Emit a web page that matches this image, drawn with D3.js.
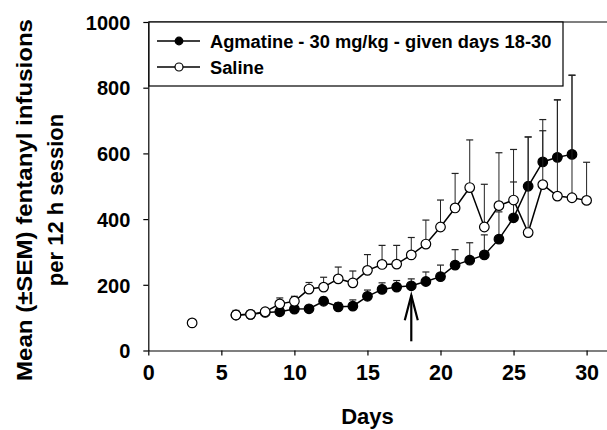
<!DOCTYPE html>
<html><head><meta charset="utf-8">
<script src="https://cdn.jsdelivr.net/npm/d3@7"></script>
<style>body{margin:0;background:#fff}svg{display:block}text{font-family:"Liberation Sans",Arial,sans-serif;font-weight:bold;fill:#000}</style>
</head><body><svg id="c" width="607" height="430"></svg>
<script>
const agmDays  = [6,7,8,9,10,11,12,13,14,15,16,17,18,19,20,21,22,23,24,25,26,27,28,29];
const agmMean  = [108,110,116,118,126,127,150,133,135,165,186,193,197,210,225,260,275,291,339,404,500,574,588,597];
const agmTop   = [108,110,118,124,136,134,162,145,154,184,206,213,218,239,260,307,328,352,422,513,650,703,763,838];
const salDays  = [3,6,7,8,9,10,11,12,13,14,15,16,17,18,19,20,21,22,23,24,25,26,27,28,29,30];
const salMean  = [84,108,110,118,142,150,187,193,218,206,244,262,263,291,324,376,434,496,376,441,458,359,505,470,465,457];
const salTop   = [84,122,112,128,160,165,207,223,254,242,292,320,320,344,397,458,539,641,506,602,612,650,669,763,838,573];
const xTicks = [0,5,10,15,20,25,30];
const yTicks = [0,200,400,600,800,1000];
const legendLabels = ["Agmatine - 30 mg/kg - given days 18-30","Saline"];
const arrowDay = 18, arrowFrom = 28, arrowTo = 168;

const svg = d3.select("#c");
const x = d3.scaleLinear().domain([0,31.5]).range([148.3,148.3+31.5*14.61]);
const y = d3.scaleLinear().domain([0,1000]).range([350.5,22]);

// axes
const xa = svg.append("g").attr("transform",`translate(0,${y(0)})`)
  .call(d3.axisBottom(x).tickValues(xTicks).tickFormat(d3.format("d")).tickSize(5).tickPadding(4).tickSizeOuter(0));
xa.selectAll("text").style("font-size","21.5px").attr("dy","0.95em");
const ya = svg.append("g").attr("transform",`translate(${x(0)},0)`)
  .call(d3.axisLeft(y).tickValues(yTicks).tickFormat(d3.format("d")).tickSize(5).tickPadding(13).tickSizeOuter(0));
ya.selectAll("text").style("font-size","20px").attr("dy","0.36em");
svg.selectAll(".domain, .tick line").attr("stroke","#000").attr("stroke-width",1.2);
// top frame line
svg.append("line").attr("x1",x(0)).attr("x2",607).attr("y1",y(1000)).attr("y2",y(1000)).attr("stroke","#000").attr("stroke-width",1.2);

// axis titles
svg.append("text").attr("x",x(15)).attr("y",424).attr("text-anchor","middle").style("font-size","22px").text("Days");
const yt = svg.append("text").attr("transform","translate(32,200) rotate(-90)").attr("text-anchor","middle").style("font-size","22px");
yt.append("tspan").attr("x",0).attr("y",0).attr("textLength",362).attr("lengthAdjust","spacingAndGlyphs").text("Mean (±SEM) fentanyl infusions");
yt.append("tspan").attr("x",0).attr("y",31).text("per 12 h session");

function series(days, mean, top, fill){
  const g = svg.append("g");
  const line = d3.line().x(d=>x(d[0])).y(d=>y(d[1]));
  const pts = days.map((d,i)=>[d,mean[i]]);
  const segs = [];
  let cur=[pts[0]];
  for(let i=1;i<pts.length;i++){ if(pts[i][0]-pts[i-1][0]===1){cur.push(pts[i]);} else {segs.push(cur);cur=[pts[i]];} }
  segs.push(cur);
  segs.forEach(s=>{ if(s.length>1) g.append("path").attr("d",line(s)).attr("fill","none").attr("stroke","#000").attr("stroke-width",1.5); });
  days.forEach((d,i)=>{
    if(top[i]>mean[i]){
      g.append("line").attr("x1",x(d)).attr("x2",x(d)).attr("y1",y(mean[i])).attr("y2",y(top[i])).attr("stroke","#222").attr("stroke-width",1);
      g.append("line").attr("x1",x(d)-3.5).attr("x2",x(d)+3.5).attr("y1",y(top[i])).attr("y2",y(top[i])).attr("stroke","#222").attr("stroke-width",1.2);
    }
  });
  g.selectAll("circle").data(pts).join("circle").attr("cx",d=>x(d[0])).attr("cy",d=>y(d[1])).attr("r",4.8)
    .attr("fill",fill).attr("stroke","#000").attr("stroke-width",1.2);
}
series(agmDays, agmMean, agmTop, "#000");
series(salDays, salMean, salTop, "#fff");

// arrow
const ax = x(arrowDay);
svg.append("line").attr("x1",ax).attr("x2",ax).attr("y1",y(arrowFrom)).attr("y2",y(arrowTo)).attr("stroke","#000").attr("stroke-width",2.2);
svg.append("path").attr("d",`M${ax-6.5},${y(arrowTo)+25} L${ax},${y(arrowTo)} L${ax+6.5},${y(arrowTo)+25}`)
  .attr("fill","none").attr("stroke","#000").attr("stroke-width",2.2);

// legend
const lg = svg.append("g");
lg.append("rect").attr("x",149).attr("y",22).attr("width",414).attr("height",64).attr("fill","#fff").attr("stroke","#000").attr("stroke-width",1.2);
legendLabels.forEach((t,i)=>{
  const yy = 41 + i*26;
  lg.append("line").attr("x1",157).attr("x2",200).attr("y1",yy).attr("y2",yy).attr("stroke","#000").attr("stroke-width",1.5);
  lg.append("circle").attr("cx",179).attr("cy",yy).attr("r",i===0?3.8:4).attr("fill",i===0?"#000":"#fff").attr("stroke","#000").attr("stroke-width",1.2);
  lg.append("text").attr("x",210).attr("y",yy+6.5).style("font-size","18.3px").text(t);
});
</script></body></html>
